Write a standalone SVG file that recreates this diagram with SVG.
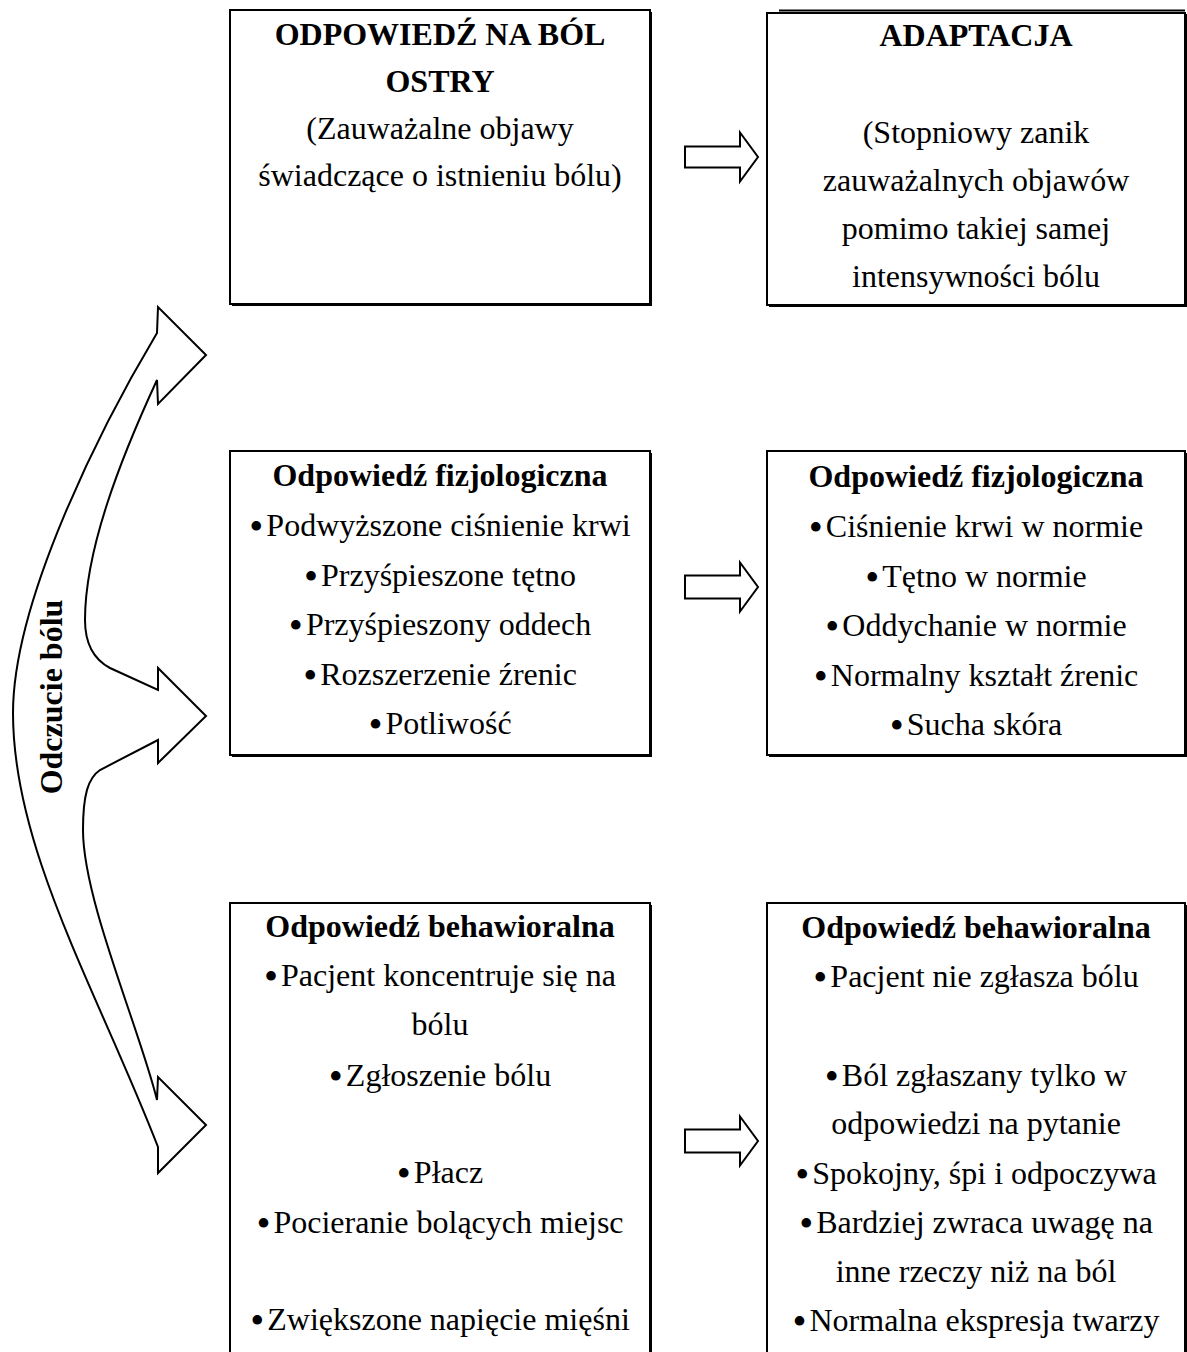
<svg xmlns="http://www.w3.org/2000/svg" width="1187" height="1352" viewBox="0 0 1187 1352">
<style>
text{font-family:"Liberation Serif","Times New Roman",serif;font-size:32px;fill:#000;text-anchor:middle}
.b{font-weight:bold}
.d{font-size:40px}
.box{fill:#fff;stroke:#000;stroke-width:2}
.sh{fill:#000}
.arr{fill:#fff;stroke:#000;stroke-width:2;stroke-linejoin:miter}
</style>
<rect width="1187" height="1352" fill="#fff"/>
<g id="connectors">
<path class="arr" d="M206,355 L158,404 L157,380 C120,460 85,550 85,620 C85,645 95,660 110,668 L158,690 L158,668 L206,716 L158,763 L158,740 L100,770 C88,778 83,795 83,830 C83,900 140,1030 157,1100 L158,1077 L206,1125 L158,1173 L158,1147 C98,992 13,850 13,713 C13,600 102,425 157,333 L158,307 Z"/>
<path class="arr" d="M685,146.5 H740 V132.5 L758,157 L740,181.5 V167.5 H685 Z"/>
<path class="arr" d="M685,575.5 H740 V562.5 L758,587 L740,611.5 V598.5 H685 Z"/>
<path class="arr" d="M685,1129.5 H740 V1116.5 L758,1141 L740,1165.5 V1152.5 H685 Z"/>
</g>
<g id="label-odczucie"><text class="b" transform="translate(62,697) rotate(-90)">Odczucie bólu</text></g>
<g id="box-ostry">
<rect class="sh" x="232" y="12" width="420" height="294"/>
<rect class="box" x="230" y="10" width="420" height="294"/>
<text class="b" x="440" y="45">ODPOWIEDŹ NA BÓL</text>
<text class="b" x="440" y="92">OSTRY</text>
<text x="440" y="139">(Zauważalne objawy</text>
<text x="440" y="186">świadczące o istnieniu bólu)</text>
</g>
<g id="box-adaptacja">
<rect class="sh" x="769" y="14" width="418" height="293"/>
<rect class="box" x="767" y="13" width="418" height="292"/>
<line x1="779" y1="10.5" x2="1185" y2="10.5" stroke="#000" stroke-width="2"/>
<text class="b" x="976" y="46">ADAPTACJA</text>
<text x="976" y="143">(Stopniowy zanik</text>
<text x="976" y="191">zauważalnych objawów</text>
<text x="976" y="239">pomimo takiej samej</text>
<text x="976" y="287">intensywności bólu</text>
</g>
<g id="box-fizjo-ostry">
<rect class="sh" x="232" y="453" width="420" height="304"/>
<rect class="box" x="230" y="451" width="420" height="304"/>
<text class="b" x="440" y="486">Odpowiedź fizjologiczna</text>
<text x="440" y="536"><tspan class="d" dy="4">•</tspan><tspan dx="3" dy="-4">Podwyższone ciśnienie krwi</tspan></text>
<text x="440" y="586"><tspan class="d" dy="4">•</tspan><tspan dx="3" dy="-4">Przyśpieszone tętno</tspan></text>
<text x="440" y="635"><tspan class="d" dy="4">•</tspan><tspan dx="3" dy="-4">Przyśpieszony oddech</tspan></text>
<text x="440" y="685"><tspan class="d" dy="4">•</tspan><tspan dx="3" dy="-4">Rozszerzenie źrenic</tspan></text>
<text x="440" y="734"><tspan class="d" dy="4">•</tspan><tspan dx="3" dy="-4">Potliwość</tspan></text>
</g>
<g id="box-fizjo-adapt">
<rect class="sh" x="769" y="453" width="418" height="304"/>
<rect class="box" x="767" y="451" width="418" height="304"/>
<text class="b" x="976" y="487">Odpowiedź fizjologiczna</text>
<text x="976" y="537"><tspan class="d" dy="4">•</tspan><tspan dx="3" dy="-4">Ciśnienie krwi w normie</tspan></text>
<text x="976" y="587"><tspan class="d" dy="4">•</tspan><tspan dx="3" dy="-4">Tętno w normie</tspan></text>
<text x="976" y="636"><tspan class="d" dy="4">•</tspan><tspan dx="3" dy="-4">Oddychanie w normie</tspan></text>
<text x="976" y="686"><tspan class="d" dy="4">•</tspan><tspan dx="3" dy="-4">Normalny kształt źrenic</tspan></text>
<text x="976" y="735"><tspan class="d" dy="4">•</tspan><tspan dx="3" dy="-4">Sucha skóra</tspan></text>
</g>
<g id="box-behaw-ostry">
<rect class="sh" x="232" y="905" width="420" height="460"/>
<rect class="box" x="230" y="903" width="420" height="460"/>
<text class="b" x="440" y="937">Odpowiedź behawioralna</text>
<text x="440" y="986"><tspan class="d" dy="4">•</tspan><tspan dx="3" dy="-4">Pacjent koncentruje się na</tspan></text>
<text x="440" y="1035">bólu</text>
<text x="440" y="1086"><tspan class="d" dy="4">•</tspan><tspan dx="3" dy="-4">Zgłoszenie bólu</tspan></text>
<text x="440" y="1183"><tspan class="d" dy="4">•</tspan><tspan dx="3" dy="-4">Płacz</tspan></text>
<text x="440" y="1233"><tspan class="d" dy="4">•</tspan><tspan dx="3" dy="-4">Pocieranie bolących miejsc</tspan></text>
<text x="440" y="1330"><tspan class="d" dy="4">•</tspan><tspan dx="3" dy="-4">Zwiększone napięcie mięśni</tspan></text>
</g>
<g id="box-behaw-adapt">
<rect class="sh" x="769" y="905" width="418" height="460"/>
<rect class="box" x="767" y="903" width="418" height="460"/>
<text class="b" x="976" y="938">Odpowiedź behawioralna</text>
<text x="976" y="987"><tspan class="d" dy="4">•</tspan><tspan dx="3" dy="-4">Pacjent nie zgłasza bólu</tspan></text>
<text x="976" y="1086"><tspan class="d" dy="4">•</tspan><tspan dx="3" dy="-4">Ból zgłaszany tylko w</tspan></text>
<text x="976" y="1134">odpowiedzi na pytanie</text>
<text x="976" y="1184"><tspan class="d" dy="4">•</tspan><tspan dx="3" dy="-4">Spokojny, śpi i odpoczywa</tspan></text>
<text x="976" y="1233"><tspan class="d" dy="4">•</tspan><tspan dx="3" dy="-4">Bardziej zwraca uwagę na</tspan></text>
<text x="976" y="1282">inne rzeczy niż na ból</text>
<text x="976" y="1331"><tspan class="d" dy="4">•</tspan><tspan dx="3" dy="-4">Normalna ekspresja twarzy</tspan></text>
</g>
</svg>
